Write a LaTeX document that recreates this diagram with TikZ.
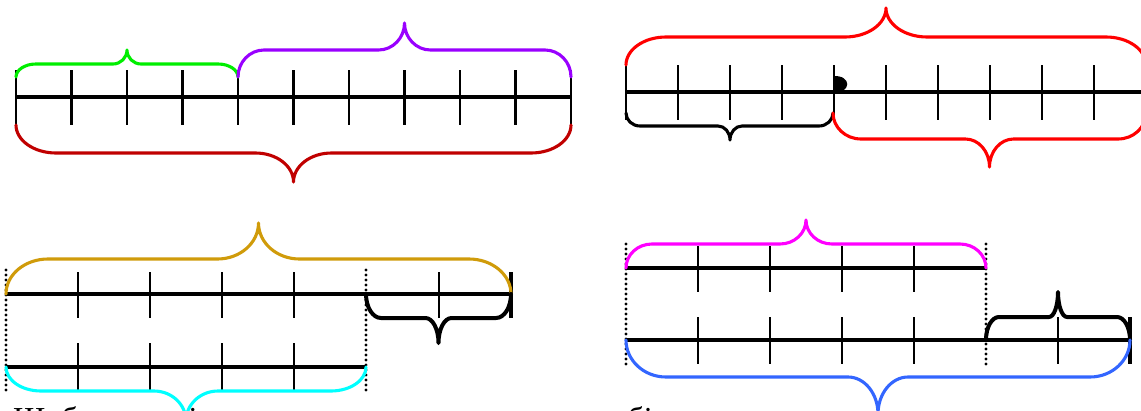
\documentclass[tikz,border=0pt]{standalone}
\usepackage{fontspec}
\setmainfont{Liberation Serif}
\definecolor{cgreen}{RGB}{0,238,0}
\definecolor{cpurple}{RGB}{153,0,255}
\definecolor{cdarkred}{RGB}{192,0,0}
\definecolor{cred}{RGB}{255,0,0}
\definecolor{cgold}{RGB}{208,155,10}
\definecolor{ccyan}{RGB}{0,255,255}
\definecolor{cmagenta}{RGB}{255,0,255}
\definecolor{cblue}{RGB}{51,102,255}
\newcommand\brc[9]{%
  \draw[bracestyle,#1] (#2,#5) .. controls ({#2},{#5+0.552*(#6-#5)}) and ({#2+0.448*#8},#6) .. ({#2+#8},#6)
    -- ({#4-#9},#6) .. controls ({#4-0.448*#9},#6) and (#4,{#6+0.448*(#7-#6)}) .. (#4,#7)
    .. controls (#4,{#6+0.448*(#7-#6)}) and ({#4+0.448*#9},#6) .. ({#4+#9},#6)
    -- ({#3-#8},#6) .. controls ({#3-0.448*#8},#6) and ({#3},{#5+0.552*(#6-#5)}) .. (#3,#5);}
\tikzset{
  axisline/.style={line width=3.1pt, black},
  tickmark/.style={line width=2.7pt, black},
  endmark/.style={line width=3.6pt, black},
  bracestyle/.style={line width=3.1pt, line cap=round, line join=round},
  thickbrace/.style={line width=4pt, black},
  dotline/.style={line width=3.2pt, line cap=round, dash pattern=on 0pt off 5pt},
}
\begin{document}
\begin{tikzpicture}[x=1pt,y=-1pt]
\useasboundingbox (0,0) rectangle (1141,410);
\clip (0,0) rectangle (1141,410);
% ---------- panel 1 ----------
\draw[axisline] (16,97) coordinate (p1a) -- (571,97) coordinate (p1b);
\foreach \x in {16,71.5,127,182.5,238,293.5,349,404.5,460,515.5,571}
  \draw[tickmark] (\x,70) -- (\x,125);
\brc{cgreen}{16}{238}{127}{77}{64}{50}{20}{14}
\brc{cpurple}{238}{571}{404.5}{77}{50}{23}{26}{26}
\brc{cdarkred}{16}{571}{293.5}{125}{153}{182}{40}{38}
% ---------- panel 2 ----------
\draw[axisline] (626,92) coordinate (p2a) -- (1150,92) coordinate (p2b);
\foreach \i in {0,...,10}
  \draw[tickmark] ({626+52*\i},65) -- ({626+52*\i},120);
\fill (833,76) .. controls (852,75) and (852,93) .. (833,93) -- cycle;
\brc{cred}{626}{1146}{886}{65}{37}{8}{40}{41}
\brc{black}{626}{833}{730}{113}{126}{140}{14}{12}
\brc{cred}{833}{1146}{989.5}{113}{139}{167}{28}{24}
% ---------- panel 3 ----------
\draw[axisline] (6,294) coordinate (p3a) -- (511,294) coordinate (p3b);
\foreach \x in {78,150,222,294,439}
  \draw[tickmark] (\x,272) -- (\x,318);
\draw[endmark] (511,272) -- (511,318);
\draw[axisline] (6,367) coordinate (p3c) -- (366,367) coordinate (p3d);
\foreach \x in {78,150,222,294}
  \draw[tickmark] (\x,343) -- (\x,390);
\draw[dotline] (6,270) -- (6,392);
\draw[dotline] (366,270) -- (366,392);
\brc{cgold}{6}{511}{258.5}{294}{259}{223}{42}{41}
\brc{thickbrace}{366}{511}{438.5}{294}{318}{343}{15}{13}
\brc{ccyan}{6}{366}{186}{367}{391}{421}{35}{32}
% ---------- panel 4 ----------
\draw[axisline] (626,268) coordinate (p4a) -- (986,268) coordinate (p4b);
\foreach \x in {698,770,842,914}
  \draw[tickmark] (\x,246) -- (\x,292);
\draw[axisline] (626,340) coordinate (p4c) -- (1130,340) coordinate (p4d);
\foreach \x in {698,770,842,914,1058}
  \draw[tickmark] (\x,317) -- (\x,364);
\draw[endmark] (1130,317) -- (1130,364);
\draw[dotline] (626,244) -- (626,366);
\draw[dotline] (986,244) -- (986,366);
\brc{cmagenta}{626}{986}{806}{268}{244}{220}{26}{26}
\brc{thickbrace}{986}{1130}{1058}{340}{317}{292}{13}{9}
\brc{cblue}{626}{1130}{878}{340}{377}{414}{40}{30}
% ---------- cut-off text line ----------
\node[anchor=base west, inner sep=0pt, font=\fontsize{32}{38}\selectfont] (txt) at (13,429)
  {Щоб на схемі показати суму чисел, можна собі};
\end{tikzpicture}
\end{document}
